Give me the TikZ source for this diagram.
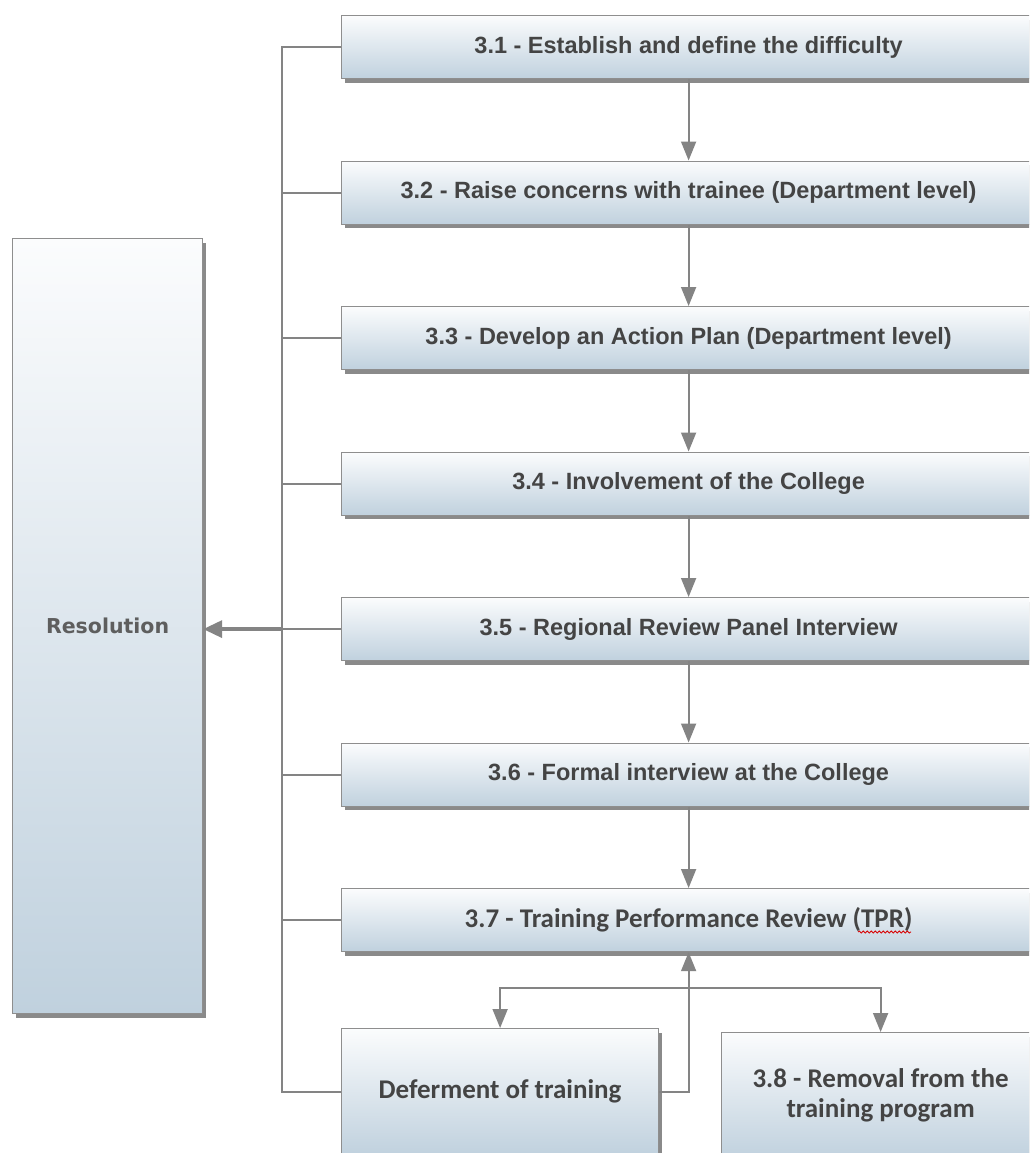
\documentclass[tikz,border=0pt]{standalone}
\usepackage{fontspec}
\newfontfamily\arialf{Liberation Sans}
\newfontfamily\calf{Carlito}
\newfontfamily\dejaf{DejaVu Sans}
\usetikzlibrary{arrows.meta,shadows,decorations.pathmorphing}
\definecolor{boxtop}{HTML}{FBFCFD}
\definecolor{boxbot}{HTML}{C0D1DE}
\definecolor{edgec}{HTML}{8E8E8E}
\definecolor{linec}{HTML}{848484}
\definecolor{txtc}{HTML}{444444}
\definecolor{restxt}{HTML}{5E5E5E}
\tikzset{
  basebox/.style={draw=edgec, line width=1.2pt, top color=boxtop, bottom color=boxbot,
    anchor=north west, inner sep=0pt, text=txtc, align=center,
    drop shadow={shadow xshift=3pt, shadow yshift=-4pt, fill=black!70, opacity=0.65}},
  stepbox/.style={basebox, minimum width=694pt, minimum height=63pt,
    font=\arialf\bfseries\fontsize{23.5}{28}\selectfont},
  calbox/.style={basebox, font=\calf\bfseries\fontsize{27}{30}\selectfont},
  resbox/.style={basebox, minimum width=190pt, minimum height=775pt,
    font=\dejaf\bfseries\fontsize{20.5}{24}\selectfont, text=restxt},
  conn/.style={draw=linec, line width=1.8pt},
  arr/.style={conn, -{Triangle[width=15pt,length=19pt]}},
  bigarr/.style={draw=linec, line width=3.5pt, -{Triangle[width=17pt,length=19pt]}},
}
\begin{document}
\begin{tikzpicture}[x=1pt,y=-1pt]
\useasboundingbox (0,0) rectangle (1029,1153);
\clip (0,0) rectangle (1029,1153);
\fill[white] (0,0) rectangle (1029,1153);

\node[resbox] (res) at (12,238) {Resolution};

\node[stepbox] (b1) at (341,15)    {3.1 - Establish and define the difficulty};
\node[stepbox] (b2) at (341,160.5) {3.2 - Raise concerns with trainee (Department level)};
\node[stepbox] (b3) at (341,306)   {3.3 - Develop an Action Plan (Department level)};
\node[stepbox] (b4) at (341,451.5) {3.4 - Involvement of the College};
\node[stepbox] (b5) at (341,597)   {3.5 - Regional Review Panel Interview};
\node[stepbox] (b6) at (341,742.5) {3.6 - Formal interview at the College};
\node[calbox, minimum width=694pt, minimum height=63pt] (b7) at (341,888)
  {3.7 - Training Performance Review (TPR)};
\node[calbox, minimum width=317pt, minimum height=126pt] (def) at (341,1028)
  {Deferment of training};
\node[calbox, minimum width=318pt, minimum height=126pt] (rem) at (721,1032)
  {3.8 - Removal from the\\training program};

% red spell-check squiggle under TPR
\draw[red!85!black, line width=0.8pt, decorate,
  decoration={snake, amplitude=1.1pt, segment length=4pt}] (858,932) -- (911,932);

\coordinate (spine) at (282,0);
\coordinate (br) at (688,988);

% spine
\draw[conn] (b1.west) -- (b1.west -| spine) -- (def.west -| spine) -- (def.west);
\foreach \b in {b2,b3,b4,b5,b6,b7}{
  \draw[conn] (\b.west) -- (\b.west -| spine);
}
\draw[bigarr] (b5.west -| spine) -- (b5.west -| res.east);

% main chain
\draw[arr] (b1.south) -- (b2.north);
\draw[arr] (b2.south) -- (b3.north);
\draw[arr] (b3.south) -- (b4.north);
\draw[arr] (b4.south) -- (b5.north);
\draw[arr] (b5.south) -- (b6.north);
\draw[arr] (b6.south) -- (b7.north);

% bottom branch
\draw[arr] (def.east) -| (b7.south);
\draw[arr] (br) -| (def.north);
\draw[arr] (br) -| (rem.north);
\end{tikzpicture}
\end{document}
